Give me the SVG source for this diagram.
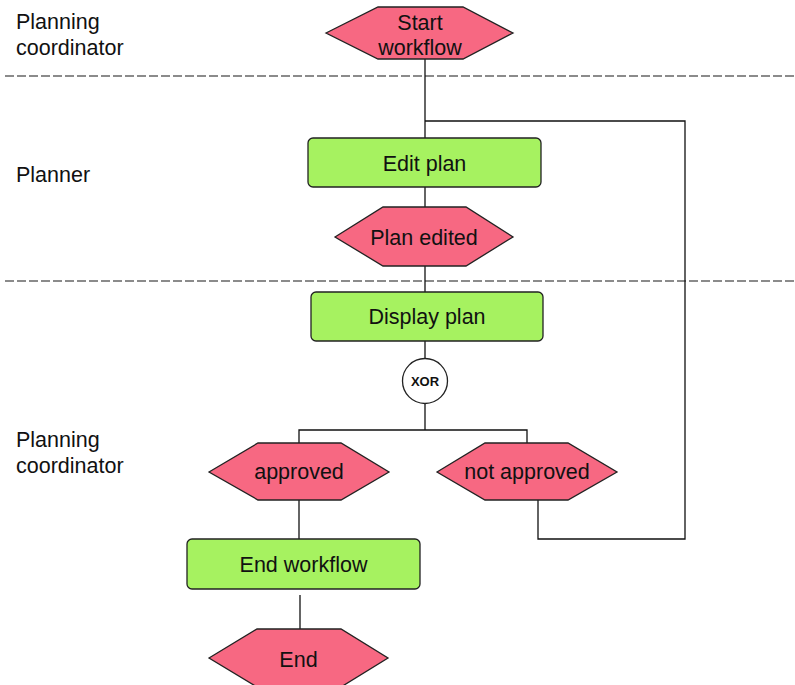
<svg xmlns="http://www.w3.org/2000/svg" width="795" height="685" viewBox="0 0 795 685">
<style>
text{font-family:"Liberation Sans",Arial,sans-serif;font-size:21.5px;fill:#111}
.lane{text-anchor:start}
.c{text-anchor:middle}
.ev{fill:#f76882;stroke:#222;stroke-width:1.3}
.fn{fill:#a6f260;stroke:#222;stroke-width:1.3}
.con{fill:none;stroke:#111;stroke-width:1.3}
.sep{stroke:#666;stroke-width:1.3;stroke-dasharray:9,3}
.xor{fill:#fff;stroke:#222;stroke-width:1.3}
</style>
<rect width="795" height="685" fill="#fff"/>
<g id="lanes">
<line class="sep" x1="5" y1="76" x2="795" y2="76"/>
<line class="sep" x1="5" y1="281" x2="795" y2="281"/>
<text class="lane" x="16" y="29">Planning</text>
<text class="lane" x="16" y="55">coordinator</text>
<text class="lane" x="16" y="182">Planner</text>
<text class="lane" x="16" y="447">Planning</text>
<text class="lane" x="16" y="473">coordinator</text>
</g>
<g id="connectors">
<path class="con" d="M425,59 V138"/>
<path class="con" d="M425,121 H685 V539 H538 V500"/>
<path class="con" d="M425,187 V207"/>
<path class="con" d="M425,266 V292"/>
<path class="con" d="M425,341 V358"/>
<path class="con" d="M425,404 V430"/>
<path class="con" d="M299,443 V430 H527 V443"/>
<path class="con" d="M299,500 V539"/>
<path class="con" d="M300,595 V629"/>
</g>
<g id="start">
<polygon class="ev" points="326,33 378,7 463,7 513,33 463,59 378,59"/>
<text class="c" x="420" y="30">Start</text>
<text class="c" x="420" y="55">workflow</text>
</g>
<g id="edit-plan">
<rect class="fn" x="308" y="138" width="233" height="49" rx="5"/>
<text class="c" x="424.5" y="170.5">Edit plan</text>
</g>
<g id="plan-edited">
<polygon class="ev" points="335,237 383,207 466,207 513,237 466,266 383,266"/>
<text class="c" x="424" y="245">Plan edited</text>
</g>
<g id="display-plan">
<rect class="fn" x="311" y="292" width="232" height="49" rx="5"/>
<text class="c" x="427" y="324">Display plan</text>
</g>
<g id="xor">
<circle class="xor" cx="425" cy="381" r="22.5"/>
<text class="c" x="425" y="386" style="font-size:13px;font-weight:bold">XOR</text>
</g>
<g id="approved">
<polygon class="ev" points="209,472 258,443 341,443 389,472 341,500 258,500"/>
<text class="c" x="299" y="479">approved</text>
</g>
<g id="not-approved">
<polygon class="ev" points="437,472 485,443 568,443 617,472 568,500 485,500"/>
<text class="c" x="527" y="479">not approved</text>
</g>
<g id="end-workflow">
<rect class="fn" x="187" y="539" width="233" height="50" rx="5"/>
<text class="c" x="303.5" y="571.5">End workflow</text>
</g>
<g id="end">
<polygon class="ev" points="209,658 257,629 341,629 388,658 341,687 257,687"/>
<text class="c" x="298.5" y="666.5">End</text>
</g>
</svg>
